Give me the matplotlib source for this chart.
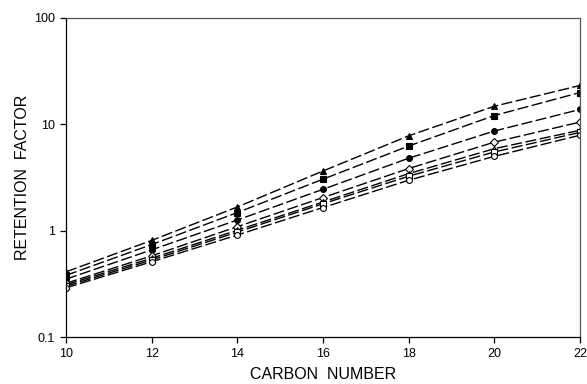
import matplotlib
matplotlib.use("Agg")
import matplotlib.pyplot as plt
from matplotlib.ticker import FixedLocator, NullLocator

plt.rcParams['font.family'] = ['Liberation Sans', 'DejaVu Sans']

carbon = [10, 12, 14, 16, 18, 20, 22]
s_tri_f = [0.41, 0.81, 1.67, 3.64, 7.8, 14.8, 23.2]
s_sq_f = [0.38, 0.74, 1.48, 3.05, 6.25, 12.1, 19.9]
s_ci_f = [0.35, 0.66, 1.26, 2.45, 4.8, 8.65, 13.8]
s_di_o = [0.32, 0.58, 1.09, 2.05, 3.84, 6.8, 10.5]
s_tri_o = [0.31, 0.55, 1.01, 1.86, 3.44, 5.9, 8.8]
s_sq_o = [0.30, 0.53, 0.97, 1.79, 3.25, 5.5, 8.4]
s_ci_o = [0.29, 0.51, 0.91, 1.65, 2.98, 5.0, 7.9]

series = [
    (s_tri_f, '^', 'black'),
    (s_sq_f, 's', 'black'),
    (s_ci_f, 'o', 'black'),
    (s_di_o, 'D', 'white'),
    (s_tri_o, '^', 'white'),
    (s_sq_o, 's', 'white'),
    (s_ci_o, 'o', 'white'),
]

fig = plt.figure(figsize=(5.87, 3.84), dpi=100)
ax = fig.add_axes([66/587, 1-337/384, (580-66)/587, (337-18)/384])

for vals, m, fc in series:
    ax.plot(carbon, vals, color='black', lw=1.0, ls=(0, (8, 2.5)),
            marker=m, markersize=4.2 if m != 'D' else 3.6,
            markerfacecolor=fc, markeredgecolor='black', markeredgewidth=0.8)

ax.set_yscale('log')
ax.set_ylim(0.1, 100)
ax.set_xlim(10, 22)
ax.xaxis.set_major_locator(FixedLocator(carbon))
ax.yaxis.set_major_locator(FixedLocator([0.1, 1, 10, 100]))
ax.yaxis.set_minor_locator(NullLocator())
ax.set_yticklabels(['0.1', '1', '10', '100'])
ax.set_xticklabels([str(c) for c in carbon])
ax.tick_params(axis='both', direction='out', length=4, width=0.9, labelsize=9, pad=4)
for sp in ax.spines.values():
    sp.set_linewidth(0.9)
ax.spines['top'].set_color('#555555')
ax.spines['right'].set_color('#555555')

ax.set_xlabel('CARBON  NUMBER', fontsize=11.5, labelpad=5)
ax.set_ylabel('RETENTION  FACTOR', fontsize=11.5, labelpad=3)

fig.savefig('out.png', dpi=100)
